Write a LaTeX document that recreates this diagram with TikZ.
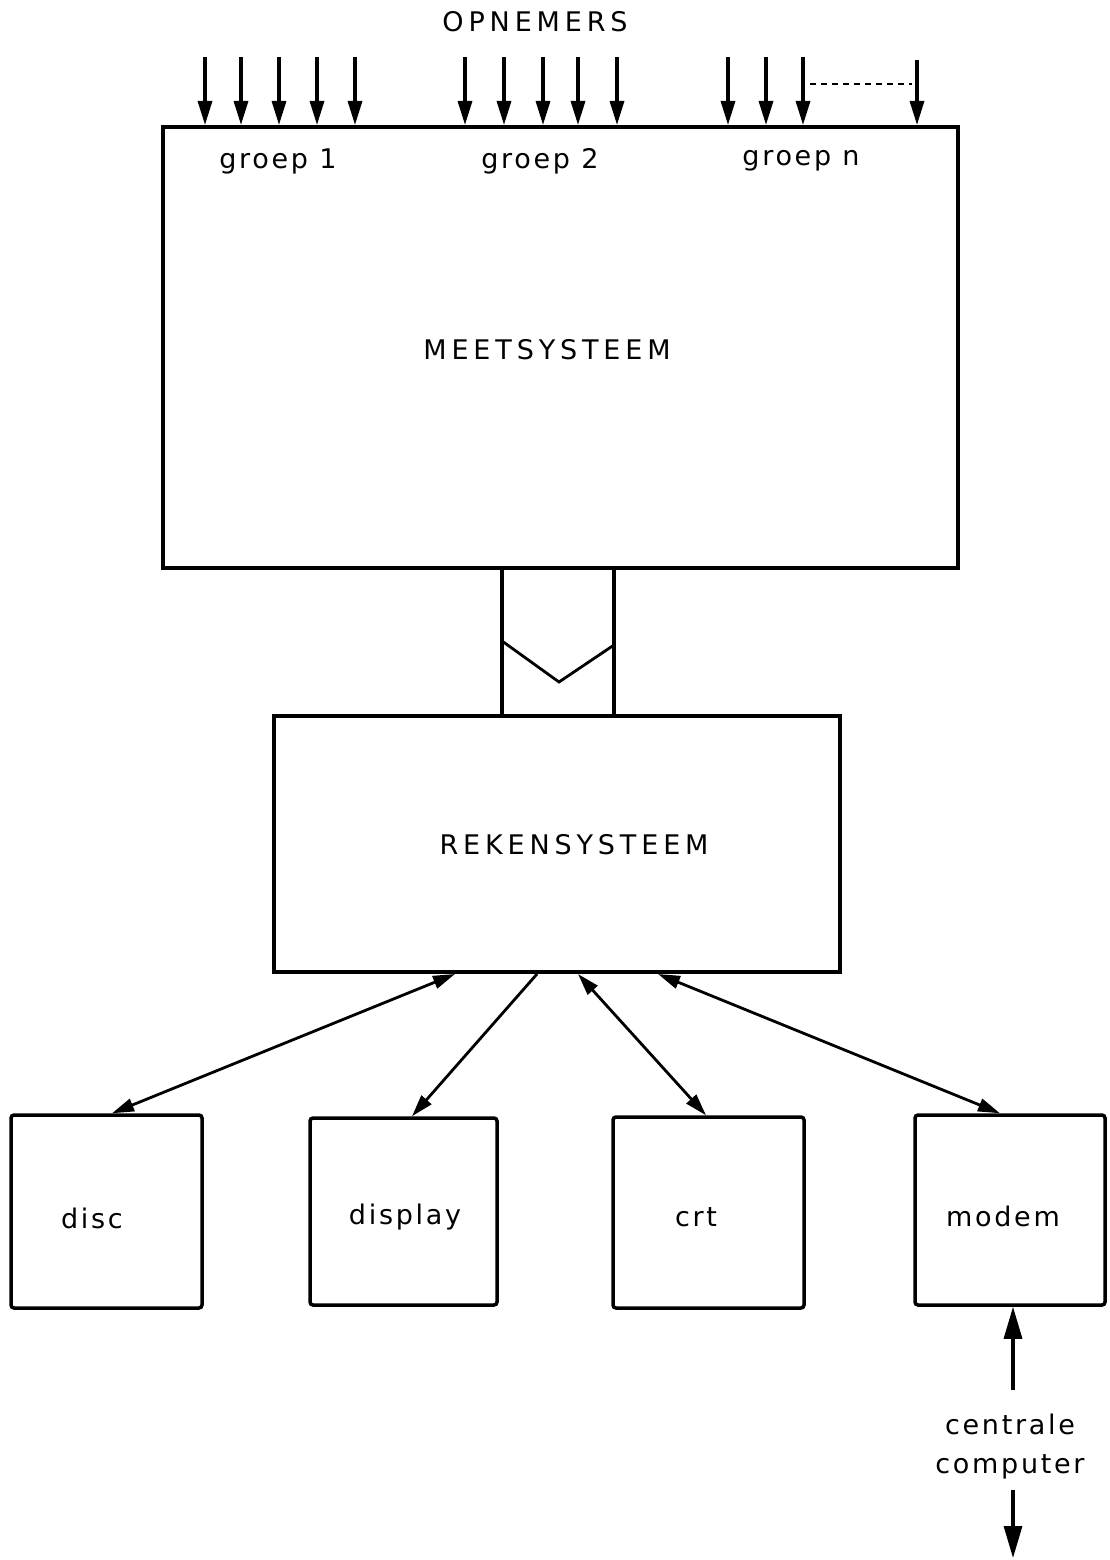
\documentclass[tikz,border=0pt]{standalone}
\usepackage{fontspec}
\setmainfont{DejaVu Sans}[LetterSpace=18]
\newfontfamily\lcfont{DejaVu Sans}[LetterSpace=10]
\usetikzlibrary{arrows.meta}
\begin{document}
\begin{tikzpicture}[x=1pt,y=-1pt,
  box/.style={draw,line width=4pt,inner sep=0pt},
  sbox/.style={draw,line width=3.5pt,rounded corners=3pt,inner sep=0pt},
  lbl/.style={font=\fontsize{27}{32}\selectfont,inner sep=0pt},
  lcl/.style={font=\lcfont\fontsize{27}{32}\selectfont,inner sep=0pt},
  arr/.style={line width=3.2pt,-{Triangle[length=24pt,width=14pt]}},
  barr/.style={line width=3.2pt,-{Triangle[length=32pt,width=18pt]}},
  darr/.style={line width=2.8pt,{Triangle[length=22pt,width=13pt]}-{Triangle[length=22pt,width=13pt]}},
  sarr/.style={line width=2.8pt,-{Triangle[length=22pt,width=13pt]}}]
\useasboundingbox (0,0) rectangle (1109,1560);
% main boxes
\node[box,minimum width=795pt,minimum height=441pt] (meet) at (560.5,347.5) {};
\node[box,minimum width=566pt,minimum height=256pt] (reken) at (557,844) {};
\node[lbl] (opn) at (535,22) {OPNEMERS};
\node[lcl] (g1) at (278,161) {groep 1};
\node[lcl] (g2) at (540,161) {groep 2};
\node[lcl] (gn) at (801,161) {groep n};
\node[lbl] (meettxt) at (547,350) {MEETSYSTEEM};
\node[lbl] (rekentxt) at (574,845) {REKENSYSTEEM};
% sensor arrows
\foreach \x in {205,241,279,317,355,465,504,543,578,617,728,766,803}
  \draw[arr] (\x,57) -- (\x,0 |- meet.north);
\draw[arr] (917,60) -- (917,0 |- meet.north);
\coordinate (dsA) at (810,84);
\coordinate (dsB) at (912,84);
\draw[line width=1.6pt,dash pattern=on 6pt off 5pt] (dsA) -- (dsB);
% bus
\draw[line width=4pt] (502,0 |- meet.south) -- (502,0 |- reken.north);
\draw[line width=4pt] (614,0 |- meet.south) -- (614,0 |- reken.north);
\draw[line width=2.8pt] (502,641) -- (559,682) -- (614,645);
% bottom boxes
\node[sbox,minimum width=191pt,minimum height=193pt] (disc) at (106.5,1211.5) {};
\node[sbox,minimum width=187pt,minimum height=187pt] (disp) at (403.5,1211.5) {};
\node[sbox,minimum width=191pt,minimum height=191pt] (crt) at (708.5,1212.5) {};
\node[sbox,minimum width=190pt,minimum height=190pt] (modem) at (1010,1210) {};
\node[lcl] (disctxt) at (92,1218) {disc};
\node[lcl] (disptxt) at (405,1217) {display};
\node[lcl] (crttxt) at (696,1217) {crt};
\node[lcl] (modemtxt) at (1003,1216) {modem};
% connectors
\draw[darr] (455,0 |- reken.south) -- (112,0 |- disc.north);
\draw[sarr] (537,0 |- reken.south) -- (412,0 |- disp.north);
\draw[darr] (578,0 |- reken.south) -- (706,0 |- crt.north);
\draw[darr] (658,0 |- reken.south) -- (1000,0 |- modem.north);
% centrale computer
\coordinate (ccA) at (1013,1390);
\node[lcl] (cc1) at (1010,1424) {centrale};
\node[lcl] (cc2) at (1010,1467) {computer};
\coordinate (ccB) at (1013,1490);
\coordinate (ccC) at (1013,1558);
\draw[barr] (ccA) -- (1013,0 |- modem.south);
\draw[barr] (ccB) -- (ccC);
\end{tikzpicture}
\end{document}
